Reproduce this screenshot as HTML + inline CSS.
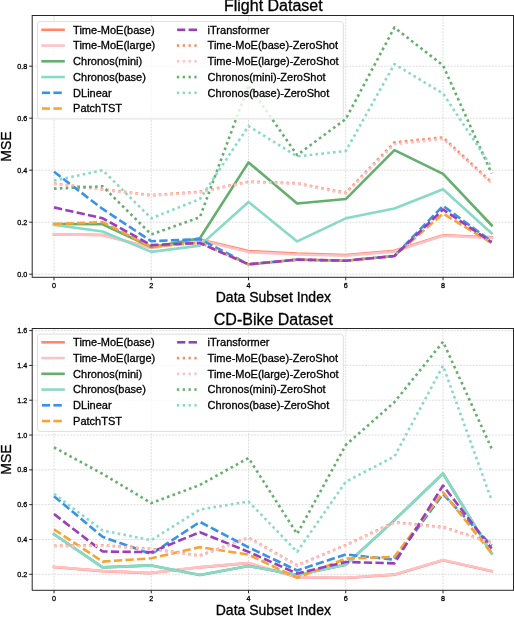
<!DOCTYPE html>
<html><head><meta charset="utf-8"><style>
html,body{margin:0;padding:0;background:#fff;width:514px;height:618px;overflow:hidden}
svg text{font-family:"Liberation Sans", sans-serif}
svg{will-change:transform}
</style></head><body>
<svg width="514" height="618" viewBox="0 0 514 618" style="display:block">
<rect width="514" height="618" fill="#fff"/>
<line x1="32.2" y1="274.20" x2="513.5" y2="274.20" stroke="#d9d9d9" stroke-width="0.9" stroke-dasharray="1.95 1.22"/>
<line x1="32.2" y1="222.20" x2="513.5" y2="222.20" stroke="#d9d9d9" stroke-width="0.9" stroke-dasharray="1.95 1.22"/>
<line x1="32.2" y1="170.20" x2="513.5" y2="170.20" stroke="#d9d9d9" stroke-width="0.9" stroke-dasharray="1.95 1.22"/>
<line x1="32.2" y1="118.20" x2="513.5" y2="118.20" stroke="#d9d9d9" stroke-width="0.9" stroke-dasharray="1.95 1.22"/>
<line x1="32.2" y1="66.20" x2="513.5" y2="66.20" stroke="#d9d9d9" stroke-width="0.9" stroke-dasharray="1.95 1.22"/>
<line x1="54.00" y1="15.5" x2="54.00" y2="277.3" stroke="#d9d9d9" stroke-width="0.9" stroke-dasharray="1.95 1.22"/>
<line x1="151.26" y1="15.5" x2="151.26" y2="277.3" stroke="#d9d9d9" stroke-width="0.9" stroke-dasharray="1.95 1.22"/>
<line x1="248.52" y1="15.5" x2="248.52" y2="277.3" stroke="#d9d9d9" stroke-width="0.9" stroke-dasharray="1.95 1.22"/>
<line x1="345.78" y1="15.5" x2="345.78" y2="277.3" stroke="#d9d9d9" stroke-width="0.9" stroke-dasharray="1.95 1.22"/>
<line x1="443.04" y1="15.5" x2="443.04" y2="277.3" stroke="#d9d9d9" stroke-width="0.9" stroke-dasharray="1.95 1.22"/>
<polyline points="54.00,234.42 102.63,234.94 151.26,247.68 199.89,239.62 248.52,251.06 297.15,253.66 345.78,254.96 394.41,250.80 443.04,235.20 491.67,237.28" fill="none" stroke="#FF8A62" stroke-width="2.6" stroke-linejoin="round" stroke-linecap="square"/>
<polyline points="54.00,234.42 102.63,234.94 151.26,248.20 199.89,240.14 248.52,252.10 297.15,254.44 345.78,255.74 394.41,251.58 443.04,235.72 491.67,237.80" fill="none" stroke="#FFC0C6" stroke-width="2.6" stroke-linejoin="round" stroke-linecap="square"/>
<polyline points="54.00,224.02 102.63,224.28 151.26,247.16 199.89,238.32 248.52,162.40 297.15,203.48 345.78,199.06 394.41,150.18 443.04,173.84 491.67,225.32" fill="none" stroke="#64AF6E" stroke-width="2.6" stroke-linejoin="round" stroke-linecap="square"/>
<polyline points="54.00,224.80 102.63,231.56 151.26,251.84 199.89,245.60 248.52,201.92 297.15,241.44 345.78,218.30 394.41,208.42 443.04,189.18 491.67,233.38" fill="none" stroke="#88DAC6" stroke-width="2.6" stroke-linejoin="round" stroke-linecap="square"/>
<polyline points="54.00,171.76 102.63,208.94 151.26,241.18 199.89,239.10 248.52,264.32 297.15,259.64 345.78,260.68 394.41,256.00 443.04,205.82 491.67,241.44" fill="none" stroke="#3893E8" stroke-width="2.6" stroke-linejoin="round" stroke-dasharray="8.3 3.3"/>
<polyline points="54.00,224.02 102.63,222.20 151.26,246.64 199.89,242.74 248.52,264.32 297.15,259.64 345.78,260.68 394.41,256.00 443.04,213.62 491.67,243.00" fill="none" stroke="#FAA232" stroke-width="2.6" stroke-linejoin="round" stroke-dasharray="8.3 3.3"/>
<polyline points="54.00,207.38 102.63,218.30 151.26,245.08 199.89,243.00 248.52,264.32 297.15,259.64 345.78,260.68 394.41,256.00 443.04,209.46 491.67,242.22" fill="none" stroke="#9A3EBB" stroke-width="2.6" stroke-linejoin="round" stroke-dasharray="8.3 3.3"/>
<polyline points="54.00,183.46 102.63,189.18 151.26,195.16 199.89,191.78 248.52,181.64 297.15,183.20 345.78,192.82 394.41,142.38 443.04,137.44 491.67,182.42" fill="none" stroke="#FF8A62" stroke-width="2.6" stroke-linejoin="round" stroke-dasharray="2.6 3.26"/>
<polyline points="54.00,183.98 102.63,189.70 151.26,195.68 199.89,192.30 248.52,182.16 297.15,183.72 345.78,193.60 394.41,144.20 443.04,139.00 491.67,183.20" fill="none" stroke="#FFC0C6" stroke-width="2.6" stroke-linejoin="round" stroke-dasharray="2.6 3.26"/>
<polyline points="54.00,188.66 102.63,186.32 151.26,234.42 199.89,217.26 248.52,85.18 297.15,155.12 345.78,118.98 394.41,27.46 443.04,65.42 491.67,173.58" fill="none" stroke="#64AF6E" stroke-width="2.6" stroke-linejoin="round" stroke-dasharray="2.6 3.26"/>
<polyline points="54.00,180.60 102.63,170.20 151.26,218.30 199.89,199.06 248.52,126.00 297.15,156.42 345.78,150.96 394.41,64.12 443.04,93.50 491.67,167.08" fill="none" stroke="#88DAC6" stroke-width="2.6" stroke-linejoin="round" stroke-dasharray="2.6 3.26"/>
<rect x="37.5" y="21.6" width="305.8" height="97.30000000000001" rx="2.5" fill="#fff" fill-opacity="0.8" stroke="#d6d6d6" stroke-width="0.8"/>
<line x1="41.3" y1="29.80" x2="64.8" y2="29.80" stroke="#FF8A62" stroke-width="2.6"/>
<text x="73.1" y="33.70" font-size="11" fill="#000" stroke="#000" stroke-width="0.3">Time-MoE(base)</text>
<line x1="41.3" y1="45.55" x2="64.8" y2="45.55" stroke="#FFC0C6" stroke-width="2.6"/>
<text x="73.1" y="49.45" font-size="11" fill="#000" stroke="#000" stroke-width="0.3">Time-MoE(large)</text>
<line x1="41.3" y1="61.30" x2="64.8" y2="61.30" stroke="#64AF6E" stroke-width="2.6"/>
<text x="73.1" y="65.20" font-size="11" fill="#000" stroke="#000" stroke-width="0.3">Chronos(mini)</text>
<line x1="41.3" y1="77.05" x2="64.8" y2="77.05" stroke="#88DAC6" stroke-width="2.6"/>
<text x="73.1" y="80.95" font-size="11" fill="#000" stroke="#000" stroke-width="0.3">Chronos(base)</text>
<line x1="41.9" y1="92.80" x2="50.1" y2="92.80" stroke="#3893E8" stroke-width="2.6"/>
<line x1="53.4" y1="92.80" x2="61.8" y2="92.80" stroke="#3893E8" stroke-width="2.6"/>
<text x="73.1" y="96.70" font-size="11" fill="#000" stroke="#000" stroke-width="0.3">DLinear</text>
<line x1="41.9" y1="108.55" x2="50.1" y2="108.55" stroke="#FAA232" stroke-width="2.6"/>
<line x1="53.4" y1="108.55" x2="61.8" y2="108.55" stroke="#FAA232" stroke-width="2.6"/>
<text x="73.1" y="112.45" font-size="11" fill="#000" stroke="#000" stroke-width="0.3">PatchTST</text>
<line x1="177.1" y1="29.80" x2="185.3" y2="29.80" stroke="#9A3EBB" stroke-width="2.6"/>
<line x1="188.6" y1="29.80" x2="197.0" y2="29.80" stroke="#9A3EBB" stroke-width="2.6"/>
<text x="207.6" y="33.70" font-size="11" fill="#000" stroke="#000" stroke-width="0.3">iTransformer</text>
<line x1="176.85" y1="45.55" x2="179.15" y2="45.55" stroke="#FF8A62" stroke-width="2.6"/>
<line x1="182.68" y1="45.55" x2="184.98" y2="45.55" stroke="#FF8A62" stroke-width="2.6"/>
<line x1="188.51" y1="45.55" x2="190.81" y2="45.55" stroke="#FF8A62" stroke-width="2.6"/>
<line x1="194.34" y1="45.55" x2="196.64" y2="45.55" stroke="#FF8A62" stroke-width="2.6"/>
<text x="207.6" y="49.45" font-size="11" fill="#000" stroke="#000" stroke-width="0.3">Time-MoE(base)-ZeroShot</text>
<line x1="176.85" y1="61.30" x2="179.15" y2="61.30" stroke="#FFC0C6" stroke-width="2.6"/>
<line x1="182.68" y1="61.30" x2="184.98" y2="61.30" stroke="#FFC0C6" stroke-width="2.6"/>
<line x1="188.51" y1="61.30" x2="190.81" y2="61.30" stroke="#FFC0C6" stroke-width="2.6"/>
<line x1="194.34" y1="61.30" x2="196.64" y2="61.30" stroke="#FFC0C6" stroke-width="2.6"/>
<text x="207.6" y="65.20" font-size="11" fill="#000" stroke="#000" stroke-width="0.3">Time-MoE(large)-ZeroShot</text>
<line x1="176.85" y1="77.05" x2="179.15" y2="77.05" stroke="#64AF6E" stroke-width="2.6"/>
<line x1="182.68" y1="77.05" x2="184.98" y2="77.05" stroke="#64AF6E" stroke-width="2.6"/>
<line x1="188.51" y1="77.05" x2="190.81" y2="77.05" stroke="#64AF6E" stroke-width="2.6"/>
<line x1="194.34" y1="77.05" x2="196.64" y2="77.05" stroke="#64AF6E" stroke-width="2.6"/>
<text x="207.6" y="80.95" font-size="11" fill="#000" stroke="#000" stroke-width="0.3">Chronos(mini)-ZeroShot</text>
<line x1="176.85" y1="92.80" x2="179.15" y2="92.80" stroke="#88DAC6" stroke-width="2.6"/>
<line x1="182.68" y1="92.80" x2="184.98" y2="92.80" stroke="#88DAC6" stroke-width="2.6"/>
<line x1="188.51" y1="92.80" x2="190.81" y2="92.80" stroke="#88DAC6" stroke-width="2.6"/>
<line x1="194.34" y1="92.80" x2="196.64" y2="92.80" stroke="#88DAC6" stroke-width="2.6"/>
<text x="207.6" y="96.70" font-size="11" fill="#000" stroke="#000" stroke-width="0.3">Chronos(base)-ZeroShot</text>
<rect x="32.2" y="15.5" width="481.3" height="261.8" fill="none" stroke="#262626" stroke-width="1"/>
<line x1="29.200000000000003" y1="274.20" x2="32.2" y2="274.20" stroke="#262626" stroke-width="1"/>
<text x="27.200000000000003" y="276.70" font-size="7.2" text-anchor="end" fill="#000" stroke="#000" stroke-width="0.3">0.0</text>
<line x1="29.200000000000003" y1="222.20" x2="32.2" y2="222.20" stroke="#262626" stroke-width="1"/>
<text x="27.200000000000003" y="224.70" font-size="7.2" text-anchor="end" fill="#000" stroke="#000" stroke-width="0.3">0.2</text>
<line x1="29.200000000000003" y1="170.20" x2="32.2" y2="170.20" stroke="#262626" stroke-width="1"/>
<text x="27.200000000000003" y="172.70" font-size="7.2" text-anchor="end" fill="#000" stroke="#000" stroke-width="0.3">0.4</text>
<line x1="29.200000000000003" y1="118.20" x2="32.2" y2="118.20" stroke="#262626" stroke-width="1"/>
<text x="27.200000000000003" y="120.70" font-size="7.2" text-anchor="end" fill="#000" stroke="#000" stroke-width="0.3">0.6</text>
<line x1="29.200000000000003" y1="66.20" x2="32.2" y2="66.20" stroke="#262626" stroke-width="1"/>
<text x="27.200000000000003" y="68.70" font-size="7.2" text-anchor="end" fill="#000" stroke="#000" stroke-width="0.3">0.8</text>
<line x1="54.00" y1="277.3" x2="54.00" y2="280.3" stroke="#262626" stroke-width="1"/>
<text x="54.00" y="287.50" font-size="7.2" text-anchor="middle" fill="#000" stroke="#000" stroke-width="0.3">0</text>
<line x1="151.26" y1="277.3" x2="151.26" y2="280.3" stroke="#262626" stroke-width="1"/>
<text x="151.26" y="287.50" font-size="7.2" text-anchor="middle" fill="#000" stroke="#000" stroke-width="0.3">2</text>
<line x1="248.52" y1="277.3" x2="248.52" y2="280.3" stroke="#262626" stroke-width="1"/>
<text x="248.52" y="287.50" font-size="7.2" text-anchor="middle" fill="#000" stroke="#000" stroke-width="0.3">4</text>
<line x1="345.78" y1="277.3" x2="345.78" y2="280.3" stroke="#262626" stroke-width="1"/>
<text x="345.78" y="287.50" font-size="7.2" text-anchor="middle" fill="#000" stroke="#000" stroke-width="0.3">6</text>
<line x1="443.04" y1="277.3" x2="443.04" y2="280.3" stroke="#262626" stroke-width="1"/>
<text x="443.04" y="287.50" font-size="7.2" text-anchor="middle" fill="#000" stroke="#000" stroke-width="0.3">8</text>
<text x="273.35" y="10.7" font-size="16" text-anchor="middle" fill="#000" stroke="#000" stroke-width="0.3">Flight Dataset</text>
<text x="273.35" y="301.9" font-size="14" text-anchor="middle" fill="#000" stroke="#000" stroke-width="0.3">Data Subset Index</text>
<text transform="translate(11.1,146.5) rotate(-90)" x="0" y="0" font-size="14" text-anchor="middle" fill="#000" stroke="#000" stroke-width="0.3">MSE</text>
<line x1="32.2" y1="574.30" x2="513.5" y2="574.30" stroke="#d9d9d9" stroke-width="0.9" stroke-dasharray="1.95 1.22"/>
<line x1="32.2" y1="539.48" x2="513.5" y2="539.48" stroke="#d9d9d9" stroke-width="0.9" stroke-dasharray="1.95 1.22"/>
<line x1="32.2" y1="504.67" x2="513.5" y2="504.67" stroke="#d9d9d9" stroke-width="0.9" stroke-dasharray="1.95 1.22"/>
<line x1="32.2" y1="469.85" x2="513.5" y2="469.85" stroke="#d9d9d9" stroke-width="0.9" stroke-dasharray="1.95 1.22"/>
<line x1="32.2" y1="435.04" x2="513.5" y2="435.04" stroke="#d9d9d9" stroke-width="0.9" stroke-dasharray="1.95 1.22"/>
<line x1="32.2" y1="400.23" x2="513.5" y2="400.23" stroke="#d9d9d9" stroke-width="0.9" stroke-dasharray="1.95 1.22"/>
<line x1="32.2" y1="365.41" x2="513.5" y2="365.41" stroke="#d9d9d9" stroke-width="0.9" stroke-dasharray="1.95 1.22"/>
<line x1="32.2" y1="330.60" x2="513.5" y2="330.60" stroke="#d9d9d9" stroke-width="0.9" stroke-dasharray="1.95 1.22"/>
<line x1="54.00" y1="328.5" x2="54.00" y2="590.3" stroke="#d9d9d9" stroke-width="0.9" stroke-dasharray="1.95 1.22"/>
<line x1="151.26" y1="328.5" x2="151.26" y2="590.3" stroke="#d9d9d9" stroke-width="0.9" stroke-dasharray="1.95 1.22"/>
<line x1="248.52" y1="328.5" x2="248.52" y2="590.3" stroke="#d9d9d9" stroke-width="0.9" stroke-dasharray="1.95 1.22"/>
<line x1="345.78" y1="328.5" x2="345.78" y2="590.3" stroke="#d9d9d9" stroke-width="0.9" stroke-dasharray="1.95 1.22"/>
<line x1="443.04" y1="328.5" x2="443.04" y2="590.3" stroke="#d9d9d9" stroke-width="0.9" stroke-dasharray="1.95 1.22"/>
<polyline points="54.00,566.99 102.63,571.16 151.26,573.08 199.89,567.33 248.52,563.16 297.15,577.26 345.78,577.95 394.41,574.64 443.04,560.20 491.67,571.16" fill="none" stroke="#FF8A62" stroke-width="2.6" stroke-linejoin="round" stroke-linecap="square"/>
<polyline points="54.00,566.81 102.63,570.99 151.26,572.90 199.89,567.16 248.52,562.98 297.15,577.08 345.78,577.78 394.41,574.47 443.04,560.02 491.67,570.99" fill="none" stroke="#FFC0C6" stroke-width="2.6" stroke-linejoin="round" stroke-linecap="square"/>
<polyline points="54.00,534.26 102.63,567.33 151.26,565.42 199.89,574.99 248.52,565.94 297.15,574.99 345.78,564.72 394.41,520.16 443.04,473.51 491.67,553.41" fill="none" stroke="#64AF6E" stroke-width="2.6" stroke-linejoin="round" stroke-linecap="square"/>
<polyline points="54.00,534.26 102.63,567.33 151.26,565.42 199.89,574.99 248.52,565.94 297.15,574.99 345.78,564.72 394.41,520.16 443.04,473.51 491.67,553.41" fill="none" stroke="#88DAC6" stroke-width="2.6" stroke-linejoin="round" stroke-linecap="square"/>
<polyline points="54.00,496.14 102.63,536.87 151.26,553.93 199.89,521.90 248.52,547.32 297.15,570.47 345.78,554.45 394.41,559.67 443.04,494.05 491.67,545.75" fill="none" stroke="#3893E8" stroke-width="2.6" stroke-linejoin="round" stroke-dasharray="8.3 3.3"/>
<polyline points="54.00,529.39 102.63,561.59 151.26,558.28 199.89,547.14 248.52,554.63 297.15,577.78 345.78,558.63 394.41,556.89 443.04,492.31 491.67,553.41" fill="none" stroke="#FAA232" stroke-width="2.6" stroke-linejoin="round" stroke-dasharray="8.3 3.3"/>
<polyline points="54.00,514.07 102.63,551.49 151.26,552.19 199.89,532.17 248.52,551.84 297.15,573.60 345.78,561.94 394.41,563.33 443.04,485.52 491.67,548.53" fill="none" stroke="#9A3EBB" stroke-width="2.6" stroke-linejoin="round" stroke-dasharray="8.3 3.3"/>
<polyline points="54.00,545.75 102.63,545.23 151.26,548.88 199.89,555.50 248.52,537.57 297.15,565.24 345.78,545.05 394.41,522.08 443.04,527.12 491.67,542.44" fill="none" stroke="#FF8A62" stroke-width="2.6" stroke-linejoin="round" stroke-dasharray="2.6 3.26"/>
<polyline points="54.00,546.27 102.63,545.75 151.26,549.40 199.89,556.02 248.52,538.09 297.15,565.77 345.78,545.57 394.41,522.60 443.04,527.65 491.67,542.96" fill="none" stroke="#FFC0C6" stroke-width="2.6" stroke-linejoin="round" stroke-dasharray="2.6 3.26"/>
<polyline points="54.00,447.40 102.63,473.86 151.26,503.10 199.89,485.00 248.52,458.02 297.15,533.91 345.78,444.96 394.41,402.14 443.04,341.74 491.67,448.62" fill="none" stroke="#64AF6E" stroke-width="2.6" stroke-linejoin="round" stroke-dasharray="2.6 3.26"/>
<polyline points="54.00,493.88 102.63,530.43 151.26,540.18 199.89,509.54 248.52,501.53 297.15,551.84 345.78,481.69 394.41,456.45 443.04,365.76 491.67,500.32" fill="none" stroke="#88DAC6" stroke-width="2.6" stroke-linejoin="round" stroke-dasharray="2.6 3.26"/>
<rect x="37.5" y="334.1" width="305.8" height="97.30000000000001" rx="2.5" fill="#fff" fill-opacity="0.8" stroke="#d6d6d6" stroke-width="0.8"/>
<line x1="41.3" y1="342.30" x2="64.8" y2="342.30" stroke="#FF8A62" stroke-width="2.6"/>
<text x="73.1" y="346.20" font-size="11" fill="#000" stroke="#000" stroke-width="0.3">Time-MoE(base)</text>
<line x1="41.3" y1="358.05" x2="64.8" y2="358.05" stroke="#FFC0C6" stroke-width="2.6"/>
<text x="73.1" y="361.95" font-size="11" fill="#000" stroke="#000" stroke-width="0.3">Time-MoE(large)</text>
<line x1="41.3" y1="373.80" x2="64.8" y2="373.80" stroke="#64AF6E" stroke-width="2.6"/>
<text x="73.1" y="377.70" font-size="11" fill="#000" stroke="#000" stroke-width="0.3">Chronos(mini)</text>
<line x1="41.3" y1="389.55" x2="64.8" y2="389.55" stroke="#88DAC6" stroke-width="2.6"/>
<text x="73.1" y="393.45" font-size="11" fill="#000" stroke="#000" stroke-width="0.3">Chronos(base)</text>
<line x1="41.9" y1="405.30" x2="50.1" y2="405.30" stroke="#3893E8" stroke-width="2.6"/>
<line x1="53.4" y1="405.30" x2="61.8" y2="405.30" stroke="#3893E8" stroke-width="2.6"/>
<text x="73.1" y="409.20" font-size="11" fill="#000" stroke="#000" stroke-width="0.3">DLinear</text>
<line x1="41.9" y1="421.05" x2="50.1" y2="421.05" stroke="#FAA232" stroke-width="2.6"/>
<line x1="53.4" y1="421.05" x2="61.8" y2="421.05" stroke="#FAA232" stroke-width="2.6"/>
<text x="73.1" y="424.95" font-size="11" fill="#000" stroke="#000" stroke-width="0.3">PatchTST</text>
<line x1="177.1" y1="342.30" x2="185.3" y2="342.30" stroke="#9A3EBB" stroke-width="2.6"/>
<line x1="188.6" y1="342.30" x2="197.0" y2="342.30" stroke="#9A3EBB" stroke-width="2.6"/>
<text x="207.6" y="346.20" font-size="11" fill="#000" stroke="#000" stroke-width="0.3">iTransformer</text>
<line x1="176.85" y1="358.05" x2="179.15" y2="358.05" stroke="#FF8A62" stroke-width="2.6"/>
<line x1="182.68" y1="358.05" x2="184.98" y2="358.05" stroke="#FF8A62" stroke-width="2.6"/>
<line x1="188.51" y1="358.05" x2="190.81" y2="358.05" stroke="#FF8A62" stroke-width="2.6"/>
<line x1="194.34" y1="358.05" x2="196.64" y2="358.05" stroke="#FF8A62" stroke-width="2.6"/>
<text x="207.6" y="361.95" font-size="11" fill="#000" stroke="#000" stroke-width="0.3">Time-MoE(base)-ZeroShot</text>
<line x1="176.85" y1="373.80" x2="179.15" y2="373.80" stroke="#FFC0C6" stroke-width="2.6"/>
<line x1="182.68" y1="373.80" x2="184.98" y2="373.80" stroke="#FFC0C6" stroke-width="2.6"/>
<line x1="188.51" y1="373.80" x2="190.81" y2="373.80" stroke="#FFC0C6" stroke-width="2.6"/>
<line x1="194.34" y1="373.80" x2="196.64" y2="373.80" stroke="#FFC0C6" stroke-width="2.6"/>
<text x="207.6" y="377.70" font-size="11" fill="#000" stroke="#000" stroke-width="0.3">Time-MoE(large)-ZeroShot</text>
<line x1="176.85" y1="389.55" x2="179.15" y2="389.55" stroke="#64AF6E" stroke-width="2.6"/>
<line x1="182.68" y1="389.55" x2="184.98" y2="389.55" stroke="#64AF6E" stroke-width="2.6"/>
<line x1="188.51" y1="389.55" x2="190.81" y2="389.55" stroke="#64AF6E" stroke-width="2.6"/>
<line x1="194.34" y1="389.55" x2="196.64" y2="389.55" stroke="#64AF6E" stroke-width="2.6"/>
<text x="207.6" y="393.45" font-size="11" fill="#000" stroke="#000" stroke-width="0.3">Chronos(mini)-ZeroShot</text>
<line x1="176.85" y1="405.30" x2="179.15" y2="405.30" stroke="#88DAC6" stroke-width="2.6"/>
<line x1="182.68" y1="405.30" x2="184.98" y2="405.30" stroke="#88DAC6" stroke-width="2.6"/>
<line x1="188.51" y1="405.30" x2="190.81" y2="405.30" stroke="#88DAC6" stroke-width="2.6"/>
<line x1="194.34" y1="405.30" x2="196.64" y2="405.30" stroke="#88DAC6" stroke-width="2.6"/>
<text x="207.6" y="409.20" font-size="11" fill="#000" stroke="#000" stroke-width="0.3">Chronos(base)-ZeroShot</text>
<rect x="32.2" y="328.5" width="481.3" height="261.79999999999995" fill="none" stroke="#262626" stroke-width="1"/>
<line x1="29.200000000000003" y1="574.30" x2="32.2" y2="574.30" stroke="#262626" stroke-width="1"/>
<text x="27.200000000000003" y="576.80" font-size="7.2" text-anchor="end" fill="#000" stroke="#000" stroke-width="0.3">0.2</text>
<line x1="29.200000000000003" y1="539.48" x2="32.2" y2="539.48" stroke="#262626" stroke-width="1"/>
<text x="27.200000000000003" y="541.98" font-size="7.2" text-anchor="end" fill="#000" stroke="#000" stroke-width="0.3">0.4</text>
<line x1="29.200000000000003" y1="504.67" x2="32.2" y2="504.67" stroke="#262626" stroke-width="1"/>
<text x="27.200000000000003" y="507.17" font-size="7.2" text-anchor="end" fill="#000" stroke="#000" stroke-width="0.3">0.6</text>
<line x1="29.200000000000003" y1="469.85" x2="32.2" y2="469.85" stroke="#262626" stroke-width="1"/>
<text x="27.200000000000003" y="472.35" font-size="7.2" text-anchor="end" fill="#000" stroke="#000" stroke-width="0.3">0.8</text>
<line x1="29.200000000000003" y1="435.04" x2="32.2" y2="435.04" stroke="#262626" stroke-width="1"/>
<text x="27.200000000000003" y="437.54" font-size="7.2" text-anchor="end" fill="#000" stroke="#000" stroke-width="0.3">1.0</text>
<line x1="29.200000000000003" y1="400.23" x2="32.2" y2="400.23" stroke="#262626" stroke-width="1"/>
<text x="27.200000000000003" y="402.73" font-size="7.2" text-anchor="end" fill="#000" stroke="#000" stroke-width="0.3">1.2</text>
<line x1="29.200000000000003" y1="365.41" x2="32.2" y2="365.41" stroke="#262626" stroke-width="1"/>
<text x="27.200000000000003" y="367.91" font-size="7.2" text-anchor="end" fill="#000" stroke="#000" stroke-width="0.3">1.4</text>
<line x1="29.200000000000003" y1="330.60" x2="32.2" y2="330.60" stroke="#262626" stroke-width="1"/>
<text x="27.200000000000003" y="333.10" font-size="7.2" text-anchor="end" fill="#000" stroke="#000" stroke-width="0.3">1.6</text>
<line x1="54.00" y1="590.3" x2="54.00" y2="593.3" stroke="#262626" stroke-width="1"/>
<text x="54.00" y="600.50" font-size="7.2" text-anchor="middle" fill="#000" stroke="#000" stroke-width="0.3">0</text>
<line x1="151.26" y1="590.3" x2="151.26" y2="593.3" stroke="#262626" stroke-width="1"/>
<text x="151.26" y="600.50" font-size="7.2" text-anchor="middle" fill="#000" stroke="#000" stroke-width="0.3">2</text>
<line x1="248.52" y1="590.3" x2="248.52" y2="593.3" stroke="#262626" stroke-width="1"/>
<text x="248.52" y="600.50" font-size="7.2" text-anchor="middle" fill="#000" stroke="#000" stroke-width="0.3">4</text>
<line x1="345.78" y1="590.3" x2="345.78" y2="593.3" stroke="#262626" stroke-width="1"/>
<text x="345.78" y="600.50" font-size="7.2" text-anchor="middle" fill="#000" stroke="#000" stroke-width="0.3">6</text>
<line x1="443.04" y1="590.3" x2="443.04" y2="593.3" stroke="#262626" stroke-width="1"/>
<text x="443.04" y="600.50" font-size="7.2" text-anchor="middle" fill="#000" stroke="#000" stroke-width="0.3">8</text>
<text x="273.35" y="324.6" font-size="16" text-anchor="middle" fill="#000" stroke="#000" stroke-width="0.3">CD-Bike Dataset</text>
<text x="273.35" y="614.5" font-size="14" text-anchor="middle" fill="#000" stroke="#000" stroke-width="0.3">Data Subset Index</text>
<text transform="translate(11.1,459.5) rotate(-90)" x="0" y="0" font-size="14" text-anchor="middle" fill="#000" stroke="#000" stroke-width="0.3">MSE</text>
</svg>
</body></html>
